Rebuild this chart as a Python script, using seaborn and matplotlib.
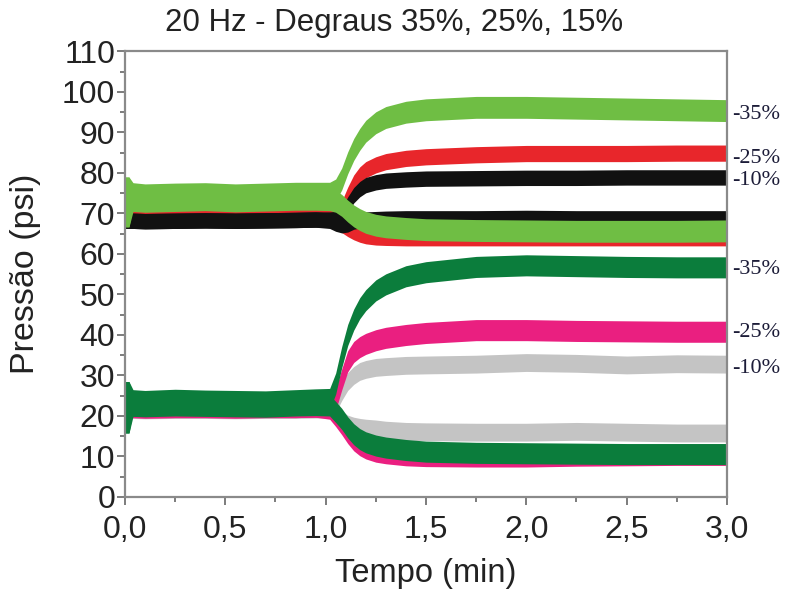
import matplotlib
matplotlib.use("Agg")
import matplotlib.pyplot as plt
from matplotlib.ticker import MultipleLocator, FixedLocator
import seaborn as sns
import pandas as pd

T = [0.00, 0.02, 0.04, 0.10, 0.25, 0.40, 0.55, 0.70, 0.85, 0.95, 1.02, 1.05,
     1.08, 1.11, 1.14, 1.17, 1.20, 1.25, 1.30, 1.40, 1.50, 1.75, 2.00, 2.25,
     2.50, 2.75, 3.00]

# Grupo superior (~70 psi): pressao central de cada ramo (psi)
verde_claro_sobe = [74.8, 74.8, 74.9, 74.6, 74.8, 74.9, 74.6, 74.8, 75.0, 75.0, 75.0, 75.8,
                    78.5, 82.5, 85.8, 88.3, 90.3, 92.4, 93.7, 95.0, 95.6, 96.2, 96.2, 96.0,
                    95.8, 95.6, 95.4]
verde_claro_desce = [73.3, 73.3, 73.2, 73.0, 73.2, 73.4, 73.1, 73.3, 73.5, 73.5, 73.4, 73.0,
                     72.0, 70.6, 69.4, 68.5, 67.8, 67.1, 66.7, 66.3, 66.0, 65.8, 65.7, 65.6,
                     65.6, 65.6, 65.7]
vermelho_sobe = [68.9, 68.9, 68.9, 68.8, 68.9, 69.0, 68.9, 69.0, 69.1, 69.1, 69.1, 69.3,
                 71.0, 74.5, 77.5, 79.5, 80.8, 82.0, 82.8, 83.6, 84.0, 84.5, 84.8, 84.8,
                 84.8, 84.9, 84.9]
vermelho_desce = [68.9, 68.9, 68.9, 68.8, 68.9, 69.0, 68.9, 69.0, 69.1, 69.1, 69.0, 68.3,
                  67.3, 66.3, 65.5, 64.9, 64.5, 64.2, 64.1, 64.0, 64.0, 64.0, 64.0, 64.0,
                  64.0, 64.0, 64.0]
preto_sobe = [68.2, 68.2, 68.2, 68.1, 68.2, 68.3, 68.2, 68.3, 68.4, 68.5, 68.5, 68.6,
              69.5, 72.2, 74.5, 76.0, 77.0, 77.7, 78.1, 78.4, 78.6, 78.7, 78.8, 78.8,
              78.9, 78.9, 78.9]
preto_desce = [68.2, 68.2, 68.2, 68.1, 68.2, 68.3, 68.2, 68.3, 68.4, 68.5, 68.2, 67.5,
               67.1, 67.3, 68.0, 68.3, 68.5, 68.6, 68.7, 68.8, 68.8, 68.8, 68.9, 68.8,
               68.8, 68.8, 68.8]

# Grupo inferior (~22 psi)
verde_escuro_sobe = [24.0, 24.0, 23.9, 23.7, 24.0, 23.8, 23.7, 23.6, 23.9, 24.1, 24.2, 28.0,
                     34.5, 40.0, 43.8, 46.6, 48.6, 51.0, 52.5, 54.5, 55.5, 56.8, 57.2, 57.0,
                     56.8, 56.7, 56.7]
verde_escuro_desce = [22.6, 22.6, 22.5, 22.4, 22.6, 22.5, 22.4, 22.3, 22.6, 22.7, 22.6, 21.0,
                      19.3, 17.2, 15.5, 14.3, 13.5, 12.7, 12.2, 11.6, 11.2, 10.9, 10.8, 10.7,
                      10.6, 10.6, 10.6]
rosa_sobe = [22.2, 22.2, 22.2, 22.1, 22.2, 22.2, 22.1, 22.2, 22.2, 22.3, 22.3, 24.0,
             29.0, 33.5, 35.8, 37.0, 37.8, 38.7, 39.3, 40.0, 40.5, 41.2, 41.2, 41.0,
             40.9, 40.8, 40.8]
rosa_desce = [22.2, 22.2, 22.2, 22.1, 22.2, 22.2, 22.1, 22.2, 22.2, 22.3, 21.8, 20.0,
              18.0, 15.8, 14.0, 12.8, 12.0, 11.2, 10.8, 10.3, 10.1, 10.0, 10.0, 10.2,
              10.3, 10.4, 10.4]
cinza_sobe = [21.8, 21.8, 21.8, 21.7, 21.8, 21.8, 21.7, 21.8, 21.8, 21.9, 21.9, 23.0,
              26.0, 28.5, 30.0, 31.0, 31.5, 32.0, 32.2, 32.5, 32.6, 32.8, 33.2, 33.0,
              32.6, 32.9, 32.8]
cinza_desce = [21.6, 21.6, 21.6, 21.5, 21.6, 21.6, 21.5, 21.6, 21.6, 21.7, 21.6, 20.5,
               19.0, 18.0, 17.5, 17.2, 17.0, 16.8, 16.5, 16.2, 16.1, 16.0, 16.0, 16.2,
               16.0, 15.8, 15.8]

# Amplitude do ruido de cada serie (meia largura da faixa, psi)
ruido = {"verde_claro": 2.7, "vermelho": 2.0, "preto": 1.9,
         "verde_escuro": 2.6, "rosa": 2.6, "cinza": 2.2}

# Transitorio de partida (t = 0 a 0,02 min): faixa minima e maxima
pico_t = [0.00, 0.02]
pico_verde_claro = (66.7, 79.0)
pico_verde_escuro = (15.8, 28.5)

cores = {"verde_claro": "#6fbe44", "vermelho": "#e8262b", "preto": "#111111",
         "verde_escuro": "#0b7d3c", "rosa": "#ea1f80", "cinza": "#c4c4c4"}

# Ordem de desenho (a ultima fica por cima)
curvas = [
    ("vermelho", vermelho_sobe), ("vermelho", vermelho_desce),
    ("preto", preto_sobe), ("preto", preto_desce),
    ("verde_claro", verde_claro_sobe), ("verde_claro", verde_claro_desce),
    ("cinza", cinza_sobe), ("cinza", cinza_desce),
    ("rosa", rosa_sobe), ("rosa", rosa_desce),
    ("verde_escuro", verde_escuro_sobe), ("verde_escuro", verde_escuro_desce),
]

# Rotulos do degrau, na altura final de cada ramo de subida
rotulos_dir = [("-35%", 94.5), ("-25%", 83.6), ("-10%", 78.1),
               ("-35%", 56.2), ("-25%", 40.6), ("-10%", 31.8)]

x_ticks = [0.0, 0.5, 1.0, 1.5, 2.0, 2.5, 3.0]
x_ticklabels = ["0,0", "0,5", "1,0", "1,5", "2,0", "2,5", "3,0"]
y_ticks = list(range(0, 111, 10))

sns.set_style("ticks")
plt.rcParams["font.family"] = ["Liberation Sans", "DejaVu Sans"]

fig = plt.figure(figsize=(7.89, 5.93), dpi=100)
ax = fig.add_axes([0.1584, 0.1619, 0.7630, 0.7513])

for serie, centro in curvas:
    hw = ruido[serie]
    linhas = []
    for ti, c in zip(T, centro):
        linhas.append((ti, c - hw))
        linhas.append((ti, c + hw))
    if serie == "verde_claro":
        for ti in pico_t:
            linhas += [(ti, pico_verde_claro[0]), (ti, pico_verde_claro[1])]
    if serie == "verde_escuro":
        for ti in pico_t:
            linhas += [(ti, pico_verde_escuro[0]), (ti, pico_verde_escuro[1])]
    df = pd.DataFrame(linhas, columns=["t", "p"])
    sns.lineplot(data=df, x="t", y="p", estimator="mean", errorbar=("pi", 100),
                 color=cores[serie], linewidth=0, ax=ax,
                 err_kws={"alpha": 1, "linewidth": 0})

ax.set_xlim(0, 3)
ax.set_ylim(0, 110)
ax.xaxis.set_major_locator(FixedLocator(x_ticks))
ax.set_xticklabels(x_ticklabels)
ax.xaxis.set_minor_locator(MultipleLocator(0.25))
ax.yaxis.set_major_locator(FixedLocator(y_ticks))
ax.yaxis.set_minor_locator(MultipleLocator(5))

for s in ax.spines.values():
    s.set_color("#8a8a8a")
    s.set_linewidth(1.6)
    s.set_visible(True)
ax.tick_params(axis="both", which="major", direction="out", length=6, width=1.2,
               color="#666666", labelsize=23, labelcolor="#222222")
ax.tick_params(axis="y", which="major", pad=1)
ax.tick_params(axis="x", which="major", pad=7)
ax.tick_params(axis="both", which="minor", direction="out", length=3.5, width=1.2,
               color="#666666")
ax.tick_params(top=False, right=False, which="both")

ax.set_xlabel("Tempo (min)", fontsize=23.5, color="#222222", labelpad=9)
ax.set_ylabel("Pressão (psi)", fontsize=24.5, color="#222222", labelpad=15)
ax.set_title("20 Hz - Degraus 35%, 25%, 15%", fontsize=22.5, color="#222222",
             pad=15, x=0.447)

for txt, yv in rotulos_dir:
    ax.annotate(txt, xy=(1.0, yv), xycoords=("axes fraction", "data"),
                xytext=(4, 0), textcoords="offset points", va="center", ha="left",
                fontsize=16, family=["Liberation Serif", "DejaVu Serif"],
                color="#1c1c38")

fig.savefig("out.png", dpi=100)
